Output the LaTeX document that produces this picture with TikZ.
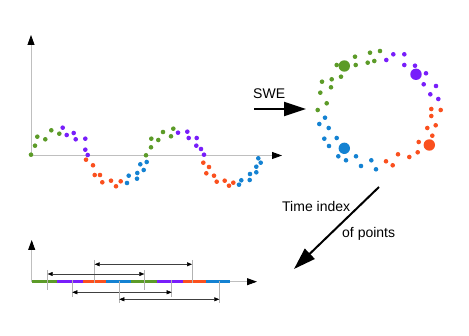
\documentclass[tikz,border=0pt]{standalone}
\usepackage{fontspec}
\setmainfont{Liberation Sans}
\usepackage{tikz}
\usetikzlibrary{arrows.meta}
\definecolor{sweGreen}{RGB}{92,155,40}
\definecolor{swePurple}{RGB}{120,30,250}
\definecolor{sweRed}{RGB}{250,80,30}
\definecolor{sweBlue}{RGB}{20,130,210}

\begin{document}
\begin{tikzpicture}[x=1pt, y=-1pt,
  axisline/.style={black!25, line width=0.8pt, -{Triangle[length=10pt,width=7pt,color=black]}},
  bigarrow/.style={black, line width=2pt, -{Triangle[length=22pt,width=14pt]}},
  spanarrow/.style={black!75, line width=0.5pt, {Triangle[length=5pt,width=4pt,color=black]}-{Triangle[length=5pt,width=4pt,color=black]}},
  tickline/.style={black!30, line width=0.6pt},
  txt/.style={font=\fontsize{14}{16}\selectfont, inner sep=0pt}]
\useasboundingbox (0,0) rectangle (469,336);
% signal axes
\coordinate (wO) at (31,155.5);
\coordinate (wY) at (31,35);
\coordinate (wX) at (282,155.5);
\draw[axisline] (wO) -- (wY);
\draw[axisline] (wO) -- (wX);
% sampled sine, coloured by quarter period
\foreach \x/\y in {31/154.7, 35/145.7, 37.3/136.7, 45.3/139.3, 51.3/130.3, 59.3/133.7, 146/155.3, 151/147.3, 151.3/138.7, 158.3/140, 163/132, 171/136.3, 173.3/128.7}
  \fill[sweGreen] (\x,\y) circle[radius=2.3pt];
\foreach \x/\y in {62.7/127.7, 66.7/135, 73.7/133, 75.7/139.3, 85.3/138.7, 85.3/149.7, 87.7/155, 178/132.7, 187.3/131.7, 188.7/138, 196.7/138, 196.3/145.7, 201/149, 204/154.7}
  \fill[swePurple] (\x,\y) circle[radius=2.3pt];
\foreach \x/\y in {86/159.7, 93/165.3, 94.7/175, 100/175, 102.3/182.3, 111/180.7, 116/186.3, 120.7/181.3, 203.3/162.7, 209/167, 206.3/173.3, 214/175.7, 216.7/181.7, 224.7/180.7, 229/185.7, 233.3/182.7}
  \fill[sweRed] (\x,\y) circle[radius=2.3pt];
\foreach \x/\y in {127/183, 128.7/175.7, 137/178.7, 137.3/173, 140.3/164.3, 143.7/170, 146.7/162, 239/184.7, 241.3/180.3, 249.7/180, 250/174, 256.3/172.3, 256.3/166.7, 260.7/162.7, 258.3/158.3}
  \fill[sweBlue] (\x,\y) circle[radius=2.3pt];
% SWE arrow
\node[txt, anchor=base west] (swe) at (253,99) {SWE};
\coordinate (sweA) at (254,109);
\coordinate (sweB) at (306,109);
\draw[bigarrow] (sweA) -- (sweB);
% embedded ring
\foreach \x/\y in {355/56.7, 370/52.7, 380/51, 336.7/65, 355.7/65, 367.7/62.7, 374.3/61, 341/76.7, 331.7/79.3, 322/81.7, 331/87.3, 320.3/92.7, 326.7/103.3, 317.7/110}
  \fill[sweGreen] (\x,\y) circle[radius=2.3pt];
\foreach \x/\y in {393.3/54.3, 404.3/54.3, 386.3/60, 404.3/65, 415/65.7, 426/73.3, 423.7/84.3, 436/86, 430.3/94.3, 438.3/99}
  \fill[swePurple] (\x,\y) circle[radius=2.3pt];
\foreach \x/\y in {431.3/109, 440.7/110, 431.3/116, 435.7/125.3, 427.3/128, 432.3/135.7, 418.7/142, 417.7/152.3, 409.3/157, 398/154.3, 392.7/165.3, 386/161.3}
  \fill[sweRed] (\x,\y) circle[radius=2.3pt];
\foreach \x/\y in {325/117.7, 319.3/124, 328.7/128, 324.3/138.7, 336.7/138, 329/146, 338.3/156.3, 356/156.3, 346/160.3, 361/166, 371.3/160.3, 376/169.3}
  \fill[sweBlue] (\x,\y) circle[radius=2.3pt];
\foreach \x/\y/\c in {344.3/66/sweGreen, 416/74.3/swePurple, 429.3/145/sweRed, 344.3/148.3/sweBlue}
  \fill[\c] (\x,\y) circle[radius=5.7pt];
% time index arrow
\coordinate (tA) at (379,187);
\coordinate (tB) at (294,269);
\draw[bigarrow] (tA) -- (tB);
\node[txt, anchor=base west] (tidx) at (282,211.5) {Time index};
\node[txt, anchor=base west] (ofpts) at (342,237.3) {of points};
% time line
\coordinate (bO) at (31.7,281.7);
\coordinate (bY) at (31.7,240);
\coordinate (bX) at (257,281.7);
\draw[axisline] (bO) -- (bY);
\draw[axisline] (bO) -- (bX);
\foreach \a/\b/\c in {31.7/57.3/sweGreen, 57.3/83.3/swePurple, 83.3/106/sweRed, 106/130.7/sweBlue, 130.7/156.7/sweGreen, 156.7/182.7/swePurple, 182.7/205.7/sweRed, 205.7/230/sweBlue}
  \draw[\c, line width=3pt] (\a,281.7) -- (\b,281.7);
\foreach \l/\r/\y/\t/\b in {94.7/192/264.3/260/283, 47.7/144.3/274/270/290, 72.3/171.7/292.3/280/297, 119.3/219.3/299.3/281/303}{
  \coordinate (sL) at (\l,\y);
  \coordinate (sR) at (\r,\y);
  \draw[tickline] (\l,\t) -- (\l,\b);
  \draw[tickline] (\r,\t) -- (\r,\b);
  \draw[spanarrow] (sL) -- (sR);
}
\end{tikzpicture}
\end{document}
